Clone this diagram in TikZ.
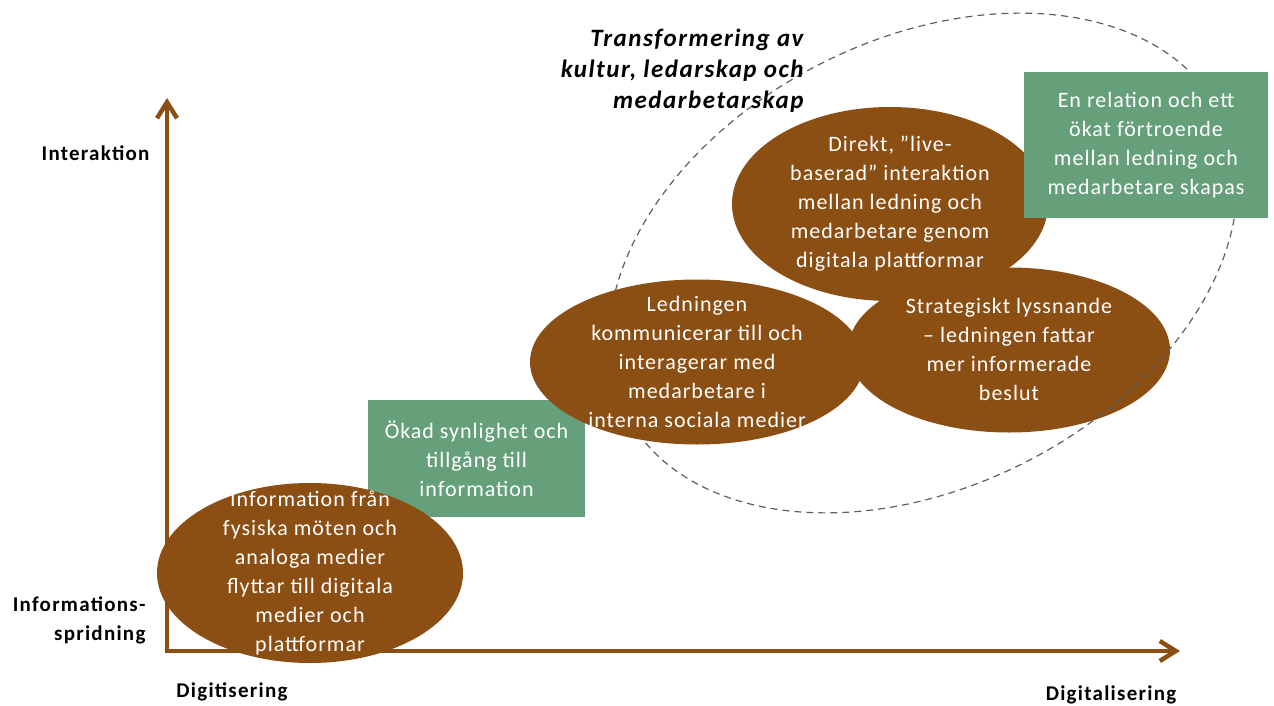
\documentclass[tikz,border=0pt]{standalone}
\usepackage{fontspec}
\setmainfont{Carlito}[LetterSpace=4.5]
\newfontfamily\labelfont{Carlito}[LetterSpace=6]
\usepackage{xcolor}
\usetikzlibrary{arrows.meta,shapes.geometric}
\definecolor{bark}{RGB}{139,78,19}
\definecolor{sage}{RGB}{102,160,122}
\definecolor{dashgray}{RGB}{95,95,95}

\begin{document}
\begin{tikzpicture}[x=1pt, y=-1pt,
  >={Straight Barb[length=16pt, width=20pt]},
  axis/.style={line width=4.5pt, bark, line join=miter},
  blob/.style={ellipse, fill=bark, inner sep=0pt},
  blobtext/.style={text=white, align=center, font=\fontsize{22}{29}\selectfont},
  greenbox/.style={fill=sage, text=white, align=center, inner sep=0pt,
    font=\fontsize{22}{29}\selectfont},
  axislabel/.style={font=\labelfont\bfseries\fontsize{21}{29}\selectfont}]
  \useasboundingbox (0,0) rectangle (1274,706);

  % axes
  \coordinate (O) at (167,651);
  \coordinate (Ytip) at (167,98);
  \coordinate (Xtip) at (1180,651);
  \draw[axis, <->] (Ytip) -- (O) -- (Xtip);

  \node[axislabel, anchor=east] (interaktion) at (153,153) {Interaktion};
  \node[axislabel, anchor=east, align=right] (spridning) at (149,620) {Informations-\\spridning};
  \node[axislabel] (digitisering) at (232,692) {Digitisering};
  \node[axislabel] (digitalisering) at (1111,695) {Digitalisering};

  % rutor och ellipser
  \node[greenbox, minimum width=217, minimum height=117] (synlighet) at (476.5,458.5)
    {Ökad synlighet och\\tillgång till\\information};
  \node[blob, minimum width=306, minimum height=180] (fysiska) at (310,573) {};
  \node[blob, minimum width=316, minimum height=194] (direkt) at (890,204) {};
  \node[blob, minimum width=322, minimum height=165] (lyssnande) at (1009,350) {};
  \draw[dashgray, line width=1.2pt, dash pattern=on 7pt off 5pt,
    rotate around={26.7:(923,263)}] (923,263) ellipse [x radius=333, y radius=224];
  \node[blob, minimum width=334, minimum height=165] (ledningen) at (697,362) {};
  \node[greenbox, minimum width=244, minimum height=146] (relation) at (1146,145)
    {En relation och ett\\ökat förtroende\\mellan ledning och\\medarbetare skapas};

  \node[blobtext] at (fysiska) {Information från\\fysiska möten och\\analoga medier\\flyttar till digitala\\medier och\\plattformar};
  \node[blobtext] at (ledningen) {Ledningen\\kommunicerar till och\\interagerar med\\medarbetare i\\interna sociala medier};
  \node[blobtext] at ([yshift=1]lyssnande) {Strategiskt lyssnande\\– ledningen fattar\\mer informerade\\beslut};
  \node[blobtext] at (direkt) {Direkt, ”live-\\baserad” interaktion\\mellan ledning och\\medarbetare genom\\digitala plattformar};

  \node[font=\labelfont\bfseries\itshape\fontsize{25}{31}\selectfont, align=right, anchor=east]
    (transformering) at (807,71) {Transformering av\\kultur, ledarskap och\\medarbetarskap};
\end{tikzpicture}
\end{document}
